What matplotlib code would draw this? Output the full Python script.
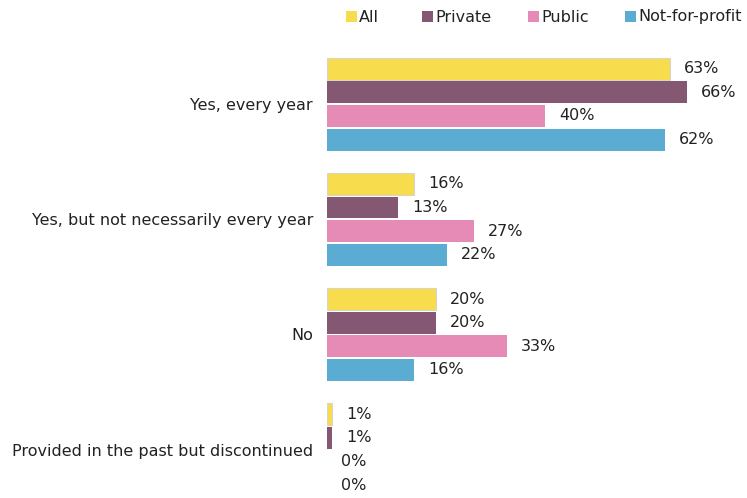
import numpy as np
import matplotlib.pyplot as plt
from matplotlib.patches import Rectangle

categories = ["Yes, every year", "Yes, but not necessarily every year", "No",
              "Provided in the past but discontinued"]
series_names = ["All", "Private", "Public", "Not-for-profit"]
all_vals = [63, 16, 20, 1]
private_vals = [66, 13, 20, 1]
public_vals = [40, 27, 33, 0]
nfp_vals = [62, 22, 16, 0]

colors = ["#F7DC4E", "#845872", "#E58BB5", "#5AACD3"]
edges = ["#D9D6C4", "none", "none", "none"]

W, H = 747, 498
fig = plt.figure(figsize=(W / 100, H / 100), dpi=100)
ax = fig.add_axes([327 / W, 0, 417 / W, 448 / H])

bar_h = 0.205
offsets = (np.arange(4) - 1.5) * bar_h
y = np.arange(len(categories))

for i, vals in enumerate([all_vals, private_vals, public_vals, nfp_vals]):
    ax.barh(y + offsets[i], vals, height=bar_h * 0.93, color=colors[i],
            edgecolor=edges[i], linewidth=0.8, label=series_names[i])
    for yy, v in zip(y + offsets[i], vals):
        ax.annotate(f"{v}%", xy=(v, yy), xytext=(10, 0), textcoords="offset points",
                    va="center", ha="left", fontsize=11.5, color="#222222")

ax.set_xlim(0, 76.5)
ax.set_ylim(3.42, -0.47)
ax.set_yticks(y)
ax.set_yticklabels(categories, fontsize=11.5, color="#222222")
ax.tick_params(axis="y", length=0, pad=10)
ax.set_xticks([])
for s in ax.spines.values():
    s.set_visible(False)

# legend row along the top, swatch + label per series
legend_x = [346, 422, 528, 625]
legend_y = 17
for x0, name, c in zip(legend_x, series_names, colors):
    fig.add_artist(Rectangle((x0 / W, (H - legend_y - 5.5) / H), 11 / W, 11 / H,
                             transform=fig.transFigure, facecolor=c, edgecolor="none"))
    fig.text((x0 + 13) / W, 1 - legend_y / H, name, fontsize=11.5, color="#222222",
             ha="left", va="center")

fig.savefig("out.png", dpi=100)
